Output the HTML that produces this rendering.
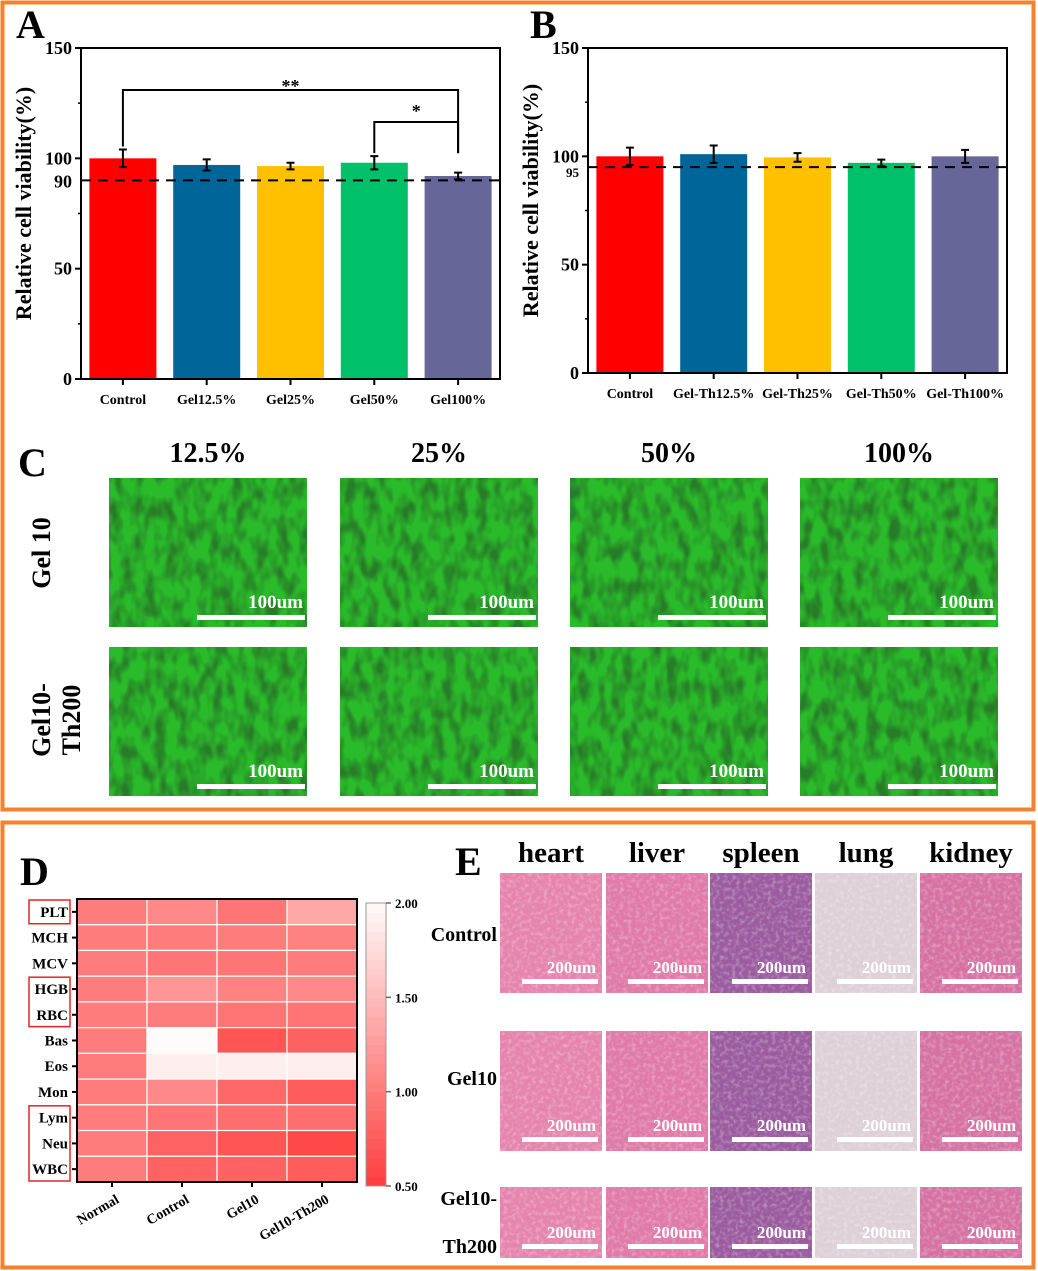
<!DOCTYPE html>
<html><head><meta charset="utf-8"><style>
html,body{margin:0;padding:0;background:#fff}
svg{display:block}
text{font-family:"Liberation Serif",serif;font-weight:bold;fill:#000}
</style></head><body>
<svg id="fig" width="1038" height="1271" viewBox="0 0 1038 1271" xmlns="http://www.w3.org/2000/svg">
<defs>
<filter id="cellTex" x="0" y="0" width="100%" height="100%">
<feTurbulence type="fractalNoise" baseFrequency="0.09 0.05" numOctaves="2" seed="3"/>
<feColorMatrix type="matrix" values="0 0 0 0 0.02  0 0 0 0 0.2  0 0 0 0 0.02  0 0 0 -2.6 1.6"/>
</filter>
<filter id="tisTex" x="0" y="0" width="100%" height="100%">
<feTurbulence type="fractalNoise" baseFrequency="0.25" numOctaves="2" seed="7"/>
<feColorMatrix type="matrix" values="0 0 0 0 1  0 0 0 0 1  0 0 0 0 1  0 0 0 -1.6 0.9"/>
</filter>
</defs>
<rect x="2.5" y="2.5" width="1031" height="807" fill="none" stroke="#f5812a" stroke-width="4"/>
<rect x="2.5" y="822.5" width="1031" height="445" fill="none" stroke="#f5812a" stroke-width="4"/>
<g id="gA"></g>
<g id="gB"></g>
<g id="gC"></g>
<g id="gD"></g>
<g id="gE"></g>
</svg>
<script>
const catsA=["Control","Gel12.5%","Gel25%","Gel50%","Gel100%"];
const valsA=[100,97,96.5,98,92];
const errsA=[4,2.5,1.5,3,1.5];
const catsB=["Control","Gel-Th12.5%","Gel-Th25%","Gel-Th50%","Gel-Th100%"];
const valsB=[100,101,99.5,97,100];
const errsB=[4,4,2,1.5,3];
const barColors=["#ff0000","#006699","#ffc000","#00c06a","#676699"];
const yTicks=[0,50,100,150];
const heatRows=["PLT","MCH","MCV","HGB","RBC","Bas","Eos","Mon","Lym","Neu","WBC"];
const heatCols=["Normal","Control","Gel10","Gel10-Th200"];
const heatVals=[
[1.0,1.1,0.95,1.35],
[1.0,1.0,1.0,1.05],
[1.0,0.95,0.95,1.0],
[1.0,1.2,1.05,1.1],
[1.0,1.0,0.95,0.95],
[1.0,2.0,0.7,0.8],
[1.0,1.9,1.9,1.9],
[1.0,1.1,0.85,0.75],
[1.0,0.95,0.9,0.9],
[1.0,0.8,0.7,0.6],
[1.0,0.8,0.8,0.75]];
const cbTicks=[0.5,1.0,1.5,2.0];
const NS="http://www.w3.org/2000/svg";
function mk(p,tag,at,txt){const e=document.createElementNS(NS,tag);for(const k in at)e.setAttribute(k,at[k]);if(txt!==undefined)e.textContent=txt;p.appendChild(e);return e;}

function barChart(g,L,T,R,B,cats,vals,errs,ref,letter,lx){
  const y=v=>B-(v/150)*(B-T);
  const bw=(R-L)/cats.length;
  const x=i=>L+bw*(i+0.5);
  let t=mk(g,'text',{x:lx,y:38,'font-size':40});t.textContent=letter;
  
  
  cats.forEach((c,i)=>{
    const r=mk(g,'rect',{x:x(i)-33.5,y:y(vals[i]),width:67,height:B-y(vals[i]),fill:barColors[i]});
    
    
    const eb=mk(g,'path',{d:`M${x(i)-4},${y(vals[i]+errs[i])}h8M${x(i)},${y(vals[i]+errs[i])}V${y(vals[i]-errs[i])}M${x(i)-4},${y(vals[i]-errs[i])}h8`,stroke:'#000','stroke-width':2,fill:'none'});
    
    
    mk(g,'line',{x1:x(i),x2:x(i),y1:B,y2:B+6,stroke:'#000','stroke-width':2});
    const lb=mk(g,'text',{x:x(i),y:B+25,'text-anchor':'middle','font-size':14},c);
    
    
  });
  const dl=mk(g,'line',{x1:L,x2:R,y1:y(ref),y2:y(ref),stroke:'#000','stroke-width':2,'stroke-dasharray':'10 7'});
  
  
  const ax=mk(g,'rect',{x:L,y:T,width:R-L,height:B-T,fill:'none',stroke:'#000','stroke-width':2});
  
  
  yTicks.forEach(v=>{
    mk(g,'line',{x1:L-6,x2:L,y1:y(v),y2:y(v),stroke:'#000','stroke-width':2});
    const tl=mk(g,'text',{x:L-9,y:y(v)+6,'text-anchor':'end','font-size':18},String(v));
    
    
  });
  [25,75,125].forEach(v=>mk(g,'line',{x1:L-3,x2:L,y1:y(v),y2:y(v),stroke:'#000','stroke-width':1.5}));
  const rl=mk(g,'text',{x:L-9,y:y(ref)+(ref===90?7:10),'text-anchor':'end','font-size':ref===90?18:13},String(ref));
  
  
  const yt=mk(g,'text',{x:0,y:0,'text-anchor':'middle','font-size':22,transform:`translate(${L-50},${(T+B)/2-10}) rotate(-90)`},'Relative cell viability(%)');
  
  
  return {x,y};
}
const gA=document.getElementById('gA');
const A=barChart(gA,81,48,500,379,catsA,valsA,errsA,90,'A',16);
const br1=mk(gA,'path',{d:`M${A.x(0)},${A.y(valsA[0]+errsA[0])-3}V90H${A.x(4)}V${A.y(valsA[3]+errsA[3])-3}`,fill:'none',stroke:'#000','stroke-width':2});


mk(gA,'text',{x:(A.x(0)+A.x(4))/2,y:92,'text-anchor':'middle','font-size':18},'**');
const br2=mk(gA,'path',{d:`M${A.x(3)},${A.y(valsA[3]+errsA[3])-3}V122H${A.x(4)}V${A.y(valsA[3]+errsA[3])-3}`,fill:'none',stroke:'#000','stroke-width':2});


mk(gA,'text',{x:(A.x(3)+A.x(4))/2,y:117,'text-anchor':'middle','font-size':18},'*');
const gB=document.getElementById('gB');
barChart(gB,588,48,1007,373,catsB,valsB,errsB,95,'B',530);

const gC=document.getElementById('gC');
let tc=mk(gC,'text',{x:18,y:476,'font-size':40},'C');


const cHead=["12.5%","25%","50%","100%"];
const cX=[109,340,570,800];
const cY=[478,647];
cHead.forEach((h,i)=>{const t=mk(gC,'text',{x:cX[i]+99,y:462,'text-anchor':'middle','font-size':28},h);
});
let r1=mk(gC,'text',{x:0,y:0,'text-anchor':'middle','font-size':26,transform:'translate(50,553) rotate(-90)'},'Gel 10');

let r2=mk(gC,'text',{x:0,y:0,'text-anchor':'middle','font-size':26,transform:'translate(50,720) rotate(-90)'},'Gel10-');

mk(gC,'text',{x:0,y:0,'text-anchor':'middle','font-size':26,transform:'translate(80,720) rotate(-90)'},'Th200');
cY.forEach(yy=>cX.forEach(xx=>{
  const im=mk(gC,'rect',{x:xx,y:yy,width:198,height:149,fill:'#2abb2a'});
  
  mk(gC,'rect',{x:xx,y:yy,width:198,height:149,filter:'url(#cellTex)'});
  mk(gC,'rect',{x:xx+88,y:yy+137,width:108,height:5,fill:'#fff'});
  mk(gC,'text',{x:xx+194,y:yy+130,'text-anchor':'end','font-size':19,fill:'#fff',style:'fill:#fff'},'100um');
}));

const gD=document.getElementById('gD');
let td=mk(gD,'text',{x:20,y:885,'font-size':40},'D');

const HL=77,HT=899,HR=357,HB=1182;
const cw=(HR-HL)/heatCols.length, rh=(HB-HT)/heatRows.length;
function col(v){const g=Math.max(55,Math.min(252,Math.round(60+127*(v-0.5))));return `rgb(255,${g},${g})`;}
heatVals.forEach((row,r)=>row.forEach((v,c)=>{
  const cell=mk(gD,'rect',{x:HL+c*cw,y:HT+r*rh,width:cw,height:rh,fill:col(v),stroke:'#fff','stroke-width':1.2});
  
}));
mk(gD,'rect',{x:HL,y:HT,width:HR-HL,height:HB-HT,fill:'none',stroke:'#000','stroke-width':2});
heatRows.forEach((n,r)=>{
  const yy=HT+(r+0.5)*rh;
  mk(gD,'line',{x1:HL-5,x2:HL,y1:yy,y2:yy,stroke:'#000','stroke-width':2});
  const t=mk(gD,'text',{x:HL-9,y:yy+5,'text-anchor':'end','font-size':15},n);
  
});
[[0,0],[3,4],[8,10]].forEach(([a,b])=>{
  const bx=mk(gD,'rect',{x:29,y:HT+a*rh+1,width:41,height:(b-a+1)*rh-2,fill:'none',stroke:'#e8202a','stroke-width':1.5});
  
});
heatCols.forEach((n,c)=>{
  const xx=HL+(c+0.5)*cw;
  mk(gD,'line',{x1:xx,x2:xx,y1:HB,y2:HB+5,stroke:'#000','stroke-width':2});
  const t=mk(gD,'text',{x:0,y:0,'text-anchor':'end','font-size':14,transform:`translate(${xx+8},${HB+20}) rotate(-30)`},n);
  
});
const CBT=903,CBB=1186,CBL=366,CBW=20;
const cbv=v=>CBB-(v-0.5)/1.5*(CBB-CBT);
for(let i=0;i<30;i++){const v=0.5+1.5*i/30;mk(gD,'rect',{x:CBL,y:cbv(v+0.05),width:CBW,height:(CBB-CBT)/30+0.5,fill:col(v+0.025)});}
const cbf=mk(gD,'rect',{x:CBL,y:CBT,width:CBW,height:CBB-CBT,fill:'none',stroke:'#999','stroke-width':1});

cbTicks.forEach(v=>{
  mk(gD,'line',{x1:CBL+CBW,x2:CBL+CBW+5,y1:cbv(v),y2:cbv(v),stroke:'#666','stroke-width':1.5});
  const t=mk(gD,'text',{x:CBL+CBW+9,y:cbv(v)+5,'font-size':13},v.toFixed(2));
  
});

const gE=document.getElementById('gE');
let te=mk(gE,'text',{x:455,y:875,'font-size':40},'E');

const organs=["heart","liver","spleen","lung","kidney"];
const oX=[500,606,710,815,920];
const oY=[873,1031,1187];
const oW=102,oH=120;
const tint=["#e584ad","#e07aa8","#9b5c9f","#ddd0d6","#d672a2"];
organs.forEach((o,i)=>{const t=mk(gE,'text',{x:oX[i]+oW/2,y:862,'text-anchor':'middle','font-size':29},o);
});
const rowL=[["Control"],["Gel10"],["Gel10-","Th200"]];
const rowLY=[[941],[1085],[1205,1253]];
rowL.forEach((ls,r)=>ls.forEach((s,k)=>{const t=mk(gE,'text',{x:497,y:rowLY[r][k],'text-anchor':'end','font-size':20},s);
}));
oY.forEach(yy=>oX.forEach((xx,i)=>{
  const h=Math.min(oH,1258-yy);
  const im=mk(gE,'rect',{x:xx,y:yy,width:oW,height:h,fill:tint[i]});
  
  mk(gE,'rect',{x:xx,y:yy,width:oW,height:h,filter:'url(#tisTex)',opacity:0.45});
  mk(gE,'rect',{x:xx+22,y:yy+h-14,width:76,height:5,fill:'#fff'});
  mk(gE,'text',{x:xx+96,y:yy+h-20,'text-anchor':'end','font-size':17,style:'fill:#fff'},'200um');
}));
</script>
</body></html>
